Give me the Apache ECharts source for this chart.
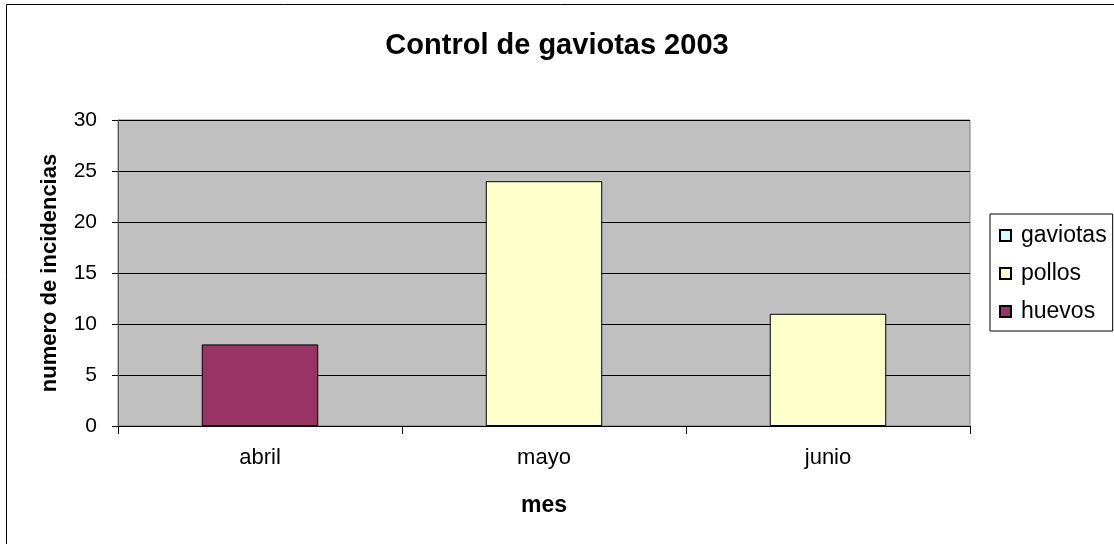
<!DOCTYPE html>
<html>
<head>
<meta charset="utf-8">
<script src="https://cdn.jsdelivr.net/npm/echarts@6/dist/echarts.min.js"></script>
<style>
  html, body { margin: 0; padding: 0; background: #fff; }
  #chart { width: 1114px; height: 544px; }
</style>
</head>
<body>
<div id="chart"></div>
<script>
const months = ['abril', 'mayo', 'junio']
const gaviotas = [0, 0, 0]
const pollos = [0, 24, 11]
const huevos = [8, 0, 0]

// 0 -> '-' so empty stack pieces are not drawn
const clean = arr => arr.map(v => (v === 0 ? '-' : v))

const font = 'Liberation Sans, Arial, sans-serif'
const chart = echarts.init(document.getElementById('chart'))

const bar = (name, data, color) => ({
  name: name,
  type: 'bar',
  stack: 'total',
  data: clean(data),
  barWidth: '41%',
  itemStyle: {
    color: color,
    borderColor: '#000',
    borderWidth: 1,
  },
})

chart.setOption({
  animation: false,
  textStyle: { fontFamily: font },
  title: {
    text: 'Control de gaviotas 2003',
    left: 'center',
    top: 26,
    textStyle: { fontSize: 29, fontWeight: 'bold', color: '#000', fontFamily: font },
  },
  graphic: [
    {
      type: 'rect',
      shape: { x: 6.5, y: 4.5, width: 1200, height: 700 },
      style: { fill: 'none', stroke: '#000', lineWidth: 1 },
      silent: true,
    },
  ],
  legend: {
    orient: 'vertical',
    left: 990,
    top: 214,
    padding: [10, 6, 8, 9],
    itemGap: 15,
    itemWidth: 11,
    itemHeight: 11,
    borderColor: '#000',
    borderWidth: 1,
    icon: 'rect',
    data: ['gaviotas', 'pollos', 'huevos'],
    textStyle: { fontSize: 23, color: '#000', fontFamily: font, padding: [0, 0, 0, 5] },
  },
  grid: {
    left: 118,
    right: 144,
    top: 120,
    bottom: 118,
    show: true,
    backgroundColor: '#C0C0C0',
    borderColor: '#808080',
    borderWidth: 1,
  },
  xAxis: {
    type: 'category',
    data: months,
    name: 'mes',
    nameLocation: 'middle',
    nameGap: 68,
    nameTextStyle: { fontSize: 23, fontWeight: 'bold', color: '#000' },
    axisLine: { lineStyle: { color: '#000', width: 1 } },
    axisTick: { show: true, length: 8, lineStyle: { color: '#000' } },
    axisLabel: { fontSize: 22, color: '#000', margin: 21 },
  },
  yAxis: {
    type: 'value',
    min: 0,
    max: 30,
    interval: 5,
    name: 'numero de incidencias',
    nameLocation: 'middle',
    nameGap: 57,
    nameTextStyle: { fontSize: 22, fontWeight: 'bold', color: '#000' },
    axisLine: { show: true, lineStyle: { color: '#555', width: 1 } },
    axisTick: { show: true, length: 6, lineStyle: { color: '#000' } },
    axisLabel: { fontSize: 21, color: '#000', margin: 21 },
    splitLine: { show: true, lineStyle: { color: '#000', width: 1 } },
  },
  series: [
    bar('gaviotas', gaviotas, '#CCFFFF'),
    bar('pollos', pollos, '#FFFFCC'),
    bar('huevos', huevos, '#993366'),
  ],
})
</script>
</body>
</html>
